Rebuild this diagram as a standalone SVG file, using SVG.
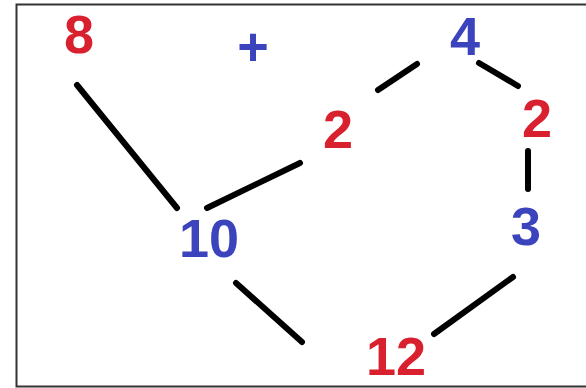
<svg xmlns="http://www.w3.org/2000/svg" width="586" height="388" viewBox="0 0 586 388">
<style>
.t{font-family:"Liberation Sans",Arial,sans-serif;font-weight:bold;font-size:54px;text-anchor:middle}
.r{fill:#d8202e}
.b{fill:#3b43bd}
.e{stroke:#000;stroke-width:6;stroke-linecap:round;fill:none}
</style>
<rect x="0" y="0" width="586" height="388" fill="#fff"/>
<rect x="16.5" y="4.5" width="580" height="382" fill="none" stroke="#333" stroke-width="2"/>
<g id="edges">
<line class="e" x1="77" y1="85" x2="177" y2="208"/>
<line class="e" x1="207" y1="208" x2="300" y2="163"/>
<line class="e" x1="378" y1="90" x2="417" y2="64"/>
<line class="e" x1="479" y1="63" x2="518" y2="86"/>
<line class="e" x1="528" y1="151" x2="528" y2="189"/>
<line class="e" x1="513" y1="277" x2="434" y2="334"/>
<line class="e" x1="236" y1="283" x2="302" y2="342"/>
</g>
<g id="n8"><text class="t r" x="79" y="53">8</text></g>
<g id="nplus"><text class="t b" x="253" y="65">+</text></g>
<g id="n4"><text class="t b" x="465" y="55">4</text></g>
<g id="n2a"><text class="t r" x="338" y="148">2</text></g>
<g id="n2b"><text class="t r" x="537" y="137">2</text></g>
<g id="n10"><text class="t b" x="209" y="257">10</text></g>
<g id="n3"><text class="t b" x="526" y="245">3</text></g>
<g id="n12"><text class="t r" x="396" y="375">12</text></g>
</svg>
